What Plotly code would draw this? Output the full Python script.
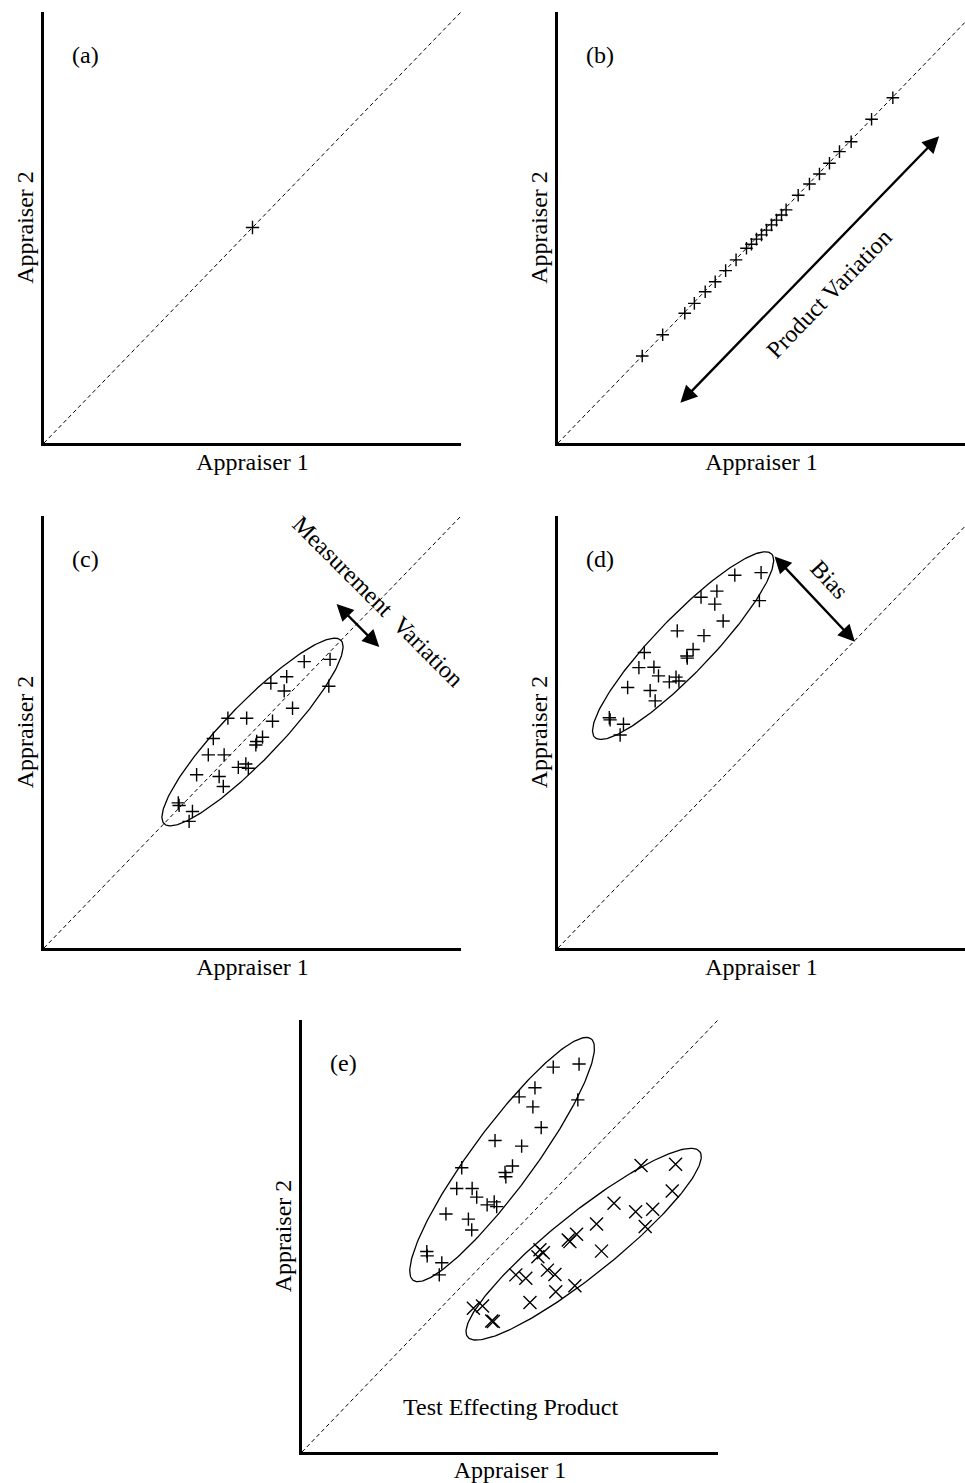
import numpy as np
import plotly.graph_objects as go

# ---------------- data ----------------
# (a) single product measured by both appraisers
a_x = [0.50]
a_y = [0.50]

# (b) many products, perfect agreement
b_x = [0.202, 0.251, 0.304, 0.327, 0.353, 0.377, 0.402, 0.427, 0.452, 0.464, 0.476, 0.488,
       0.500, 0.512, 0.524, 0.536, 0.547, 0.576, 0.603, 0.627, 0.651, 0.675, 0.703, 0.752, 0.803]
b_y = [0.202, 0.251, 0.301, 0.324, 0.351, 0.374, 0.400, 0.425, 0.452, 0.461, 0.473, 0.483,
       0.494, 0.506, 0.517, 0.529, 0.541, 0.575, 0.601, 0.624, 0.649, 0.676, 0.699, 0.751, 0.801]

# (c) measurement variation
c_x = [0.686, 0.624, 0.582, 0.544, 0.576, 0.683, 0.596, 0.441, 0.486, 0.548, 0.406, 0.524, 0.510,
       0.508, 0.394, 0.432, 0.466, 0.484, 0.490, 0.366, 0.420, 0.430, 0.322, 0.324, 0.356, 0.348]
c_y = [0.668, 0.663, 0.628, 0.613, 0.595, 0.606, 0.555, 0.532, 0.532, 0.525, 0.485, 0.488, 0.478,
       0.470, 0.447, 0.447, 0.418, 0.426, 0.416, 0.401, 0.397, 0.374, 0.336, 0.330, 0.316, 0.293]

# (d) bias between appraisers
d_x = [0.487, 0.424, 0.381, 0.343, 0.376, 0.483, 0.396, 0.286, 0.350, 0.207, 0.324, 0.309, 0.310,
       0.194, 0.230, 0.241, 0.267, 0.283, 0.290, 0.167, 0.221, 0.233, 0.123, 0.125, 0.157, 0.149]
d_y = [0.869, 0.863, 0.826, 0.812, 0.796, 0.804, 0.757, 0.734, 0.723, 0.684, 0.691, 0.676, 0.671,
       0.649, 0.650, 0.630, 0.616, 0.627, 0.618, 0.603, 0.596, 0.572, 0.533, 0.528, 0.518, 0.493]

# (e) test effecting product: two groups
e1_x = [0.666, 0.604, 0.560, 0.522, 0.555, 0.663, 0.575, 0.464, 0.528, 0.384, 0.506, 0.488, 0.490,
        0.372, 0.409, 0.420, 0.445, 0.462, 0.468, 0.346, 0.400, 0.408, 0.300, 0.301, 0.336, 0.330]
e1_y = [0.898, 0.891, 0.843, 0.822, 0.799, 0.815, 0.751, 0.721, 0.708, 0.658, 0.662, 0.647, 0.637,
        0.610, 0.610, 0.590, 0.572, 0.579, 0.568, 0.551, 0.539, 0.514, 0.464, 0.454, 0.438, 0.410]
e2_x = [0.815, 0.898, 0.890, 0.750, 0.802, 0.843, 0.825, 0.708, 0.660, 0.640, 0.644, 0.720, 0.572,
        0.580, 0.567, 0.590, 0.608, 0.514, 0.538, 0.656, 0.610, 0.548, 0.412, 0.434, 0.456, 0.460]
e2_y = [0.663, 0.666, 0.604, 0.576, 0.556, 0.562, 0.522, 0.528, 0.504, 0.491, 0.487, 0.465, 0.468,
        0.461, 0.452, 0.421, 0.411, 0.410, 0.402, 0.385, 0.371, 0.346, 0.333, 0.338, 0.303, 0.302]

panel_labels = ["(a)", "(b)", "(c)", "(d)", "(e)"]
x_title = "Appraiser 1"
y_title = "Appraiser 2"

# ---------------- layout geometry ----------------
W, H = 965, 1483
FONT = "Liberation Serif"
FS = 24


def px_dom(a, b, total):
    return [a / total, b / total]


def ydom(top, bottom):
    return [1 - bottom / H, 1 - top / H]


panels = {
    # name: (x domain, y domain, x range end)
    "": (px_dom(44, 461, W), ydom(12, 443), 1.0),
    "2": (px_dom(558, 965, W), ydom(12, 443), 407 / 417),
    "3": (px_dom(44, 461, W), ydom(516, 948), 1.0),
    "4": (px_dom(558, 965, W), ydom(516, 948), 407 / 417),
    "5": (px_dom(302, 718, W), ydom(1020, 1452), 1.0),
}

fig = go.Figure()


def ellipse(cx, cy, a, b, theta_deg, n=240):
    t = np.linspace(0, 2 * np.pi, n)
    th = np.deg2rad(theta_deg)
    ex = cx + a * np.cos(t) * np.cos(th) - b * np.sin(t) * np.sin(th)
    ey = cy + a * np.cos(t) * np.sin(th) + b * np.sin(t) * np.cos(th)
    return ex, ey


def add_diag(k):
    fig.add_trace(go.Scatter(x=[0, 1], y=[0, 1], mode="lines", xaxis="x" + k, yaxis="y" + k,
                             line=dict(color="black", width=1, dash="4px,3px"),
                             hoverinfo="skip"))


def add_pts(k, xs, ys, symbol="cross-thin", size=9.5):
    fig.add_trace(go.Scatter(x=xs, y=ys, mode="markers", xaxis="x" + k, yaxis="y" + k,
                             marker=dict(symbol=symbol, size=size, color="black",
                                         line=dict(color="black", width=1.4))))


def add_ell(k, cx, cy, a, b, th):
    ex, ey = ellipse(cx, cy, a, b, th)
    fig.add_trace(go.Scatter(x=ex, y=ey, mode="lines", xaxis="x" + k, yaxis="y" + k,
                             line=dict(color="black", width=1.3), hoverinfo="skip"))


for k in panels:
    add_diag(k)

add_pts("", a_x, a_y)
add_pts("2", b_x, b_y, size=9)
add_ell("3", 0.5, 0.5, 0.30, 0.066, 45)
add_pts("3", c_x, c_y)
add_ell("4", 0.3, 0.7, 0.30, 0.066, 45)
add_pts("4", d_x, d_y)
add_ell("5", 0.481, 0.677, 0.352, 0.073, 52.5)
add_ell("5", 0.677, 0.481, 0.352, 0.073, 37.5)
add_pts("5", e1_x, e1_y)
add_pts("5", e2_x, e2_y, symbol="x-thin", size=13)

layout = dict(
    width=W, height=H, margin=dict(l=0, r=0, t=0, b=0),
    paper_bgcolor="white", plot_bgcolor="white", showlegend=False,
    font=dict(family=FONT, size=FS, color="black"),
)


def axis_common(title, standoff):
    return dict(showline=True, linewidth=2.5, linecolor="black", showgrid=False,
                zeroline=False, showticklabels=False, ticks="", fixedrange=True,
                automargin=False,
                title=dict(text=title, standoff=standoff,
                           font=dict(family=FONT, size=FS, color="black")))


for k, (xd, yd, xmax) in panels.items():
    xa = axis_common(x_title, 9)
    xa.update(domain=xd, range=[0, xmax], anchor="y" + k)
    ya = axis_common(y_title, 1)
    ya.update(domain=yd, range=[0, 1], anchor="x" + k)
    layout["xaxis" + k] = xa
    layout["yaxis" + k] = ya

annotations = []
for lab, k in zip(panel_labels, panels.keys()):
    annotations.append(dict(text=lab, x=0.1, y=0.9, xref="x" + k, yref="y" + k,
                            showarrow=False, font=dict(family=FONT, size=FS, color="black")))


def dbl_arrow(k, x0, y0, x1, y1):
    return dict(text="", x=x1, y=y1, ax=x0, ay=y0, xref="x" + k, yref="y" + k,
                axref="x" + k, ayref="y" + k, showarrow=True, arrowside="end+start",
                arrowhead=2, startarrowhead=2, arrowsize=1.4, startarrowsize=1.4,
                arrowwidth=2.4, arrowcolor="black", standoff=0, startstandoff=0)


annotations.append(dbl_arrow("2", 0.290, 0.090, 0.914, 0.712))
annotations.append(dict(text="Product Variation", x=0.649, y=0.346, xref="x2", yref="y2",
                        showarrow=False, textangle=-46,
                        font=dict(family=FONT, size=FS, color="black")))

annotations.append(dbl_arrow("3", 0.698, 0.800, 0.804, 0.697))
annotations.append(dict(text="Measurement  Variation", x=0.800, y=0.803, xref="x3", yref="y3",
                        showarrow=False, textangle=45,
                        font=dict(family=FONT, size=FS, color="black")))

annotations.append(dbl_arrow("4", 0.516, 0.910, 0.712, 0.709))
annotations.append(dict(text="Bias", x=0.652, y=0.852, xref="x4", yref="y4",
                        showarrow=False, textangle=47,
                        font=dict(family=FONT, size=FS, color="black")))

annotations.append(dict(text="Test Effecting Product", x=0.5, y=0.105, xref="x5", yref="y5",
                        showarrow=False, font=dict(family=FONT, size=FS, color="black")))

layout["annotations"] = annotations
fig.update_layout(**layout)

fig.write_html("out.html")
